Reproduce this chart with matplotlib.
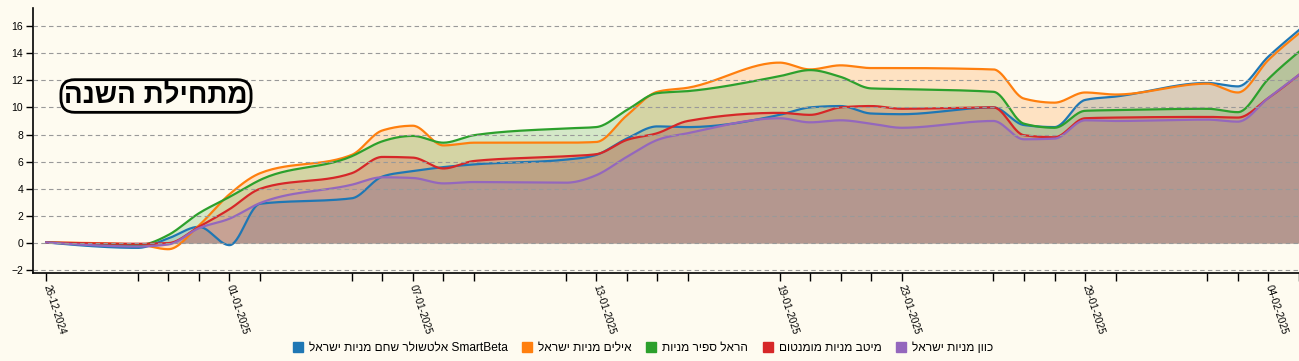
import numpy as np
import matplotlib
matplotlib.use('Agg')
import matplotlib.pyplot as plt
import matplotlib.dates as mdates
from matplotlib.patches import Patch

plt.rcParams['font.family'] = ['Liberation Sans', 'DejaVu Sans']

# trading days shown on the chart
dates = ["2024-12-26", "2024-12-29", "2024-12-30", "2024-12-31", "2025-01-01",
         "2025-01-02", "2025-01-05", "2025-01-06", "2025-01-07", "2025-01-08",
         "2025-01-09", "2025-01-12", "2025-01-13", "2025-01-14", "2025-01-15",
         "2025-01-16", "2025-01-19", "2025-01-20", "2025-01-21", "2025-01-22",
         "2025-01-23", "2025-01-26", "2025-01-27", "2025-01-28", "2025-01-29",
         "2025-01-30", "2025-02-02", "2025-02-03", "2025-02-04", "2025-02-05"]

# cumulative return since start of year (%)
altshuler = [0.05, -0.35, 0.35, 1.2, -0.15, 2.9, 3.3, 4.9, 5.3, 5.6,
             5.8, 6.15, 6.5, 7.7, 8.6, 8.55, 9.45, 10.0, 10.1, 9.55,
             9.5, 10.0, 8.7, 8.55, 10.55, 10.8, 11.8, 11.55, 13.75, 15.7]
ayalim = [0.05, -0.1, -0.45, 1.3, 3.6, 5.15, 6.5, 8.3, 8.65, 7.2,
          7.4, 7.4, 7.45, 9.4, 11.15, 11.45, 13.3, 12.8, 13.1, 12.9,
          12.9, 12.8, 10.65, 10.35, 11.1, 10.95, 11.75, 11.1, 13.5, 15.45]
harel = [0.05, -0.15, 0.6, 2.2, 3.4, 4.65, 6.4, 7.5, 7.9, 7.4,
         7.95, 8.45, 8.55, 9.8, 11.05, 11.2, 12.3, 12.75, 12.25, 11.4,
         11.35, 11.15, 8.8, 8.5, 9.75, 9.8, 9.9, 9.65, 12.1, 14.1]
meitav = [0.05, -0.05, 0.0, 1.2, 2.5, 4.0, 5.15, 6.35, 6.3, 5.5,
          6.05, 6.4, 6.55, 7.6, 8.1, 9.0, 9.6, 9.45, 10.0, 10.1,
          9.9, 10.0, 7.95, 7.8, 9.2, 9.25, 9.3, 9.25, 10.7, 12.4]
kavan = [0.05, -0.25, -0.1, 1.1, 1.8, 2.95, 4.3, 4.85, 4.8, 4.4,
         4.5, 4.45, 5.0, 6.35, 7.6, 8.1, 9.2, 8.9, 9.05, 8.8,
         8.5, 9.0, 7.65, 7.7, 9.05, 9.0, 9.1, 8.95, 10.7, 12.4]

names = ["SmartBeta אלטשולר שחם מניות ישראל", "אילים מניות ישראל",
         "הראל ספיר מניות", "מיטב מניות מומנטום", "כוון מניות ישראל"]
series = [altshuler, ayalim, harel, meitav, kavan]
colors = ['#1f77b4', '#ff7f0e', '#2ca02c', '#d62728', '#9467bd']
title = "מתחילת השנה"

BG = '#fefbf0'


def visual(s):
    # matplotlib has no bidi: put hebrew into visual order
    if s.startswith('SmartBeta '):
        return s[len('SmartBeta '):][::-1] + ' SmartBeta'
    return s[::-1]


def monotone(x, y, n=30):
    """Monotone cubic like d3.curveMonotoneX."""
    x = np.asarray(x, float)
    y = np.asarray(y, float)
    h = np.diff(x)
    s = np.diff(y) / h
    m = np.zeros_like(y)
    for i in range(1, len(x) - 1):
        p = (s[i - 1] * h[i] + s[i] * h[i - 1]) / (h[i - 1] + h[i])
        m[i] = (np.sign(s[i - 1]) + np.sign(s[i])) * min(abs(s[i - 1]), abs(s[i]), 0.5 * abs(p))
    m[0] = (3 * s[0] - m[1]) / 2
    m[-1] = (3 * s[-1] - m[-2]) / 2
    xs, ys = [], []
    for i in range(len(h)):
        t = np.linspace(0, 1, n, endpoint=(i == len(h) - 1))
        h00 = 2 * t**3 - 3 * t**2 + 1
        h10 = t**3 - 2 * t**2 + t
        h01 = -2 * t**3 + 3 * t**2
        h11 = t**3 - t**2
        xs.append(x[i] + t * h[i])
        ys.append(h00 * y[i] + h10 * h[i] * m[i] + h01 * y[i + 1] + h11 * h[i] * m[i + 1])
    return np.concatenate(xs), np.concatenate(ys)


xnum = mdates.datestr2num(dates)

fig = plt.figure(figsize=(12.99, 3.61), dpi=100, facecolor=BG)
ax = fig.add_axes([0.0254, 0.245, 0.9746, 0.733], facecolor=BG)

for vals, c in zip(series, colors):
    xs, ys = monotone(xnum, vals)
    ax.plot(xs, ys, color=c, lw=1.6)
    ax.fill_between(xs, ys, 0, color=c, alpha=0.2, lw=0)

ax.set_xlim(xnum[0] - 0.43, xnum[-1])
ax.set_ylim(-2.17, 17.33)

ax.set_yticks(np.arange(-2, 17, 2))
ax.tick_params(axis='y', labelsize=7.5, length=5, width=1, pad=2)

labels = [mdates.num2date(v).strftime('%d-%m-%Y') if i % 4 == 0 else ''
          for i, v in enumerate(xnum)]
ax.set_xticks(xnum)
ax.set_xticklabels(labels, rotation=-72, ha='left', va='center',
                   rotation_mode='anchor', fontsize=7.2)
ax.tick_params(axis='x', length=6, width=1, pad=3)

sundays = [v for v in xnum if mdates.num2date(v).weekday() == 6]
ax.set_xticks(sundays, minor=True)
ax.tick_params(axis='x', which='minor', length=0)

ax.set_axisbelow(False)
ax.grid(axis='y', which='major', color='#999999', ls=(0, (4, 3)), lw=0.8)
ax.grid(axis='x', which='minor', color='#999999', ls=(0, (4, 3)), lw=0.8)

for side in ('top', 'right'):
    ax.spines[side].set_visible(False)
for side in ('left', 'bottom'):
    ax.spines[side].set_linewidth(1.2)

fig.text(156 / 1299, 1 - 96 / 361, visual(title), fontsize=20, fontweight='bold',
         ha='center', va='center',
         bbox=dict(boxstyle='round,pad=0.12,rounding_size=0.5', fc=BG,
                   ec='black', lw=2))

handles = [Patch(color=c) for c in colors]
fig.legend(handles, [visual(n) for n in names], loc='center',
           bbox_to_anchor=(643 / 1299, 1 - 348 / 361), ncol=5, frameon=False,
           fontsize=8.6, handlelength=0.85, handleheight=0.85, handletextpad=0.5,
           columnspacing=1.2)

fig.savefig('out.png', dpi=100, facecolor=BG)
